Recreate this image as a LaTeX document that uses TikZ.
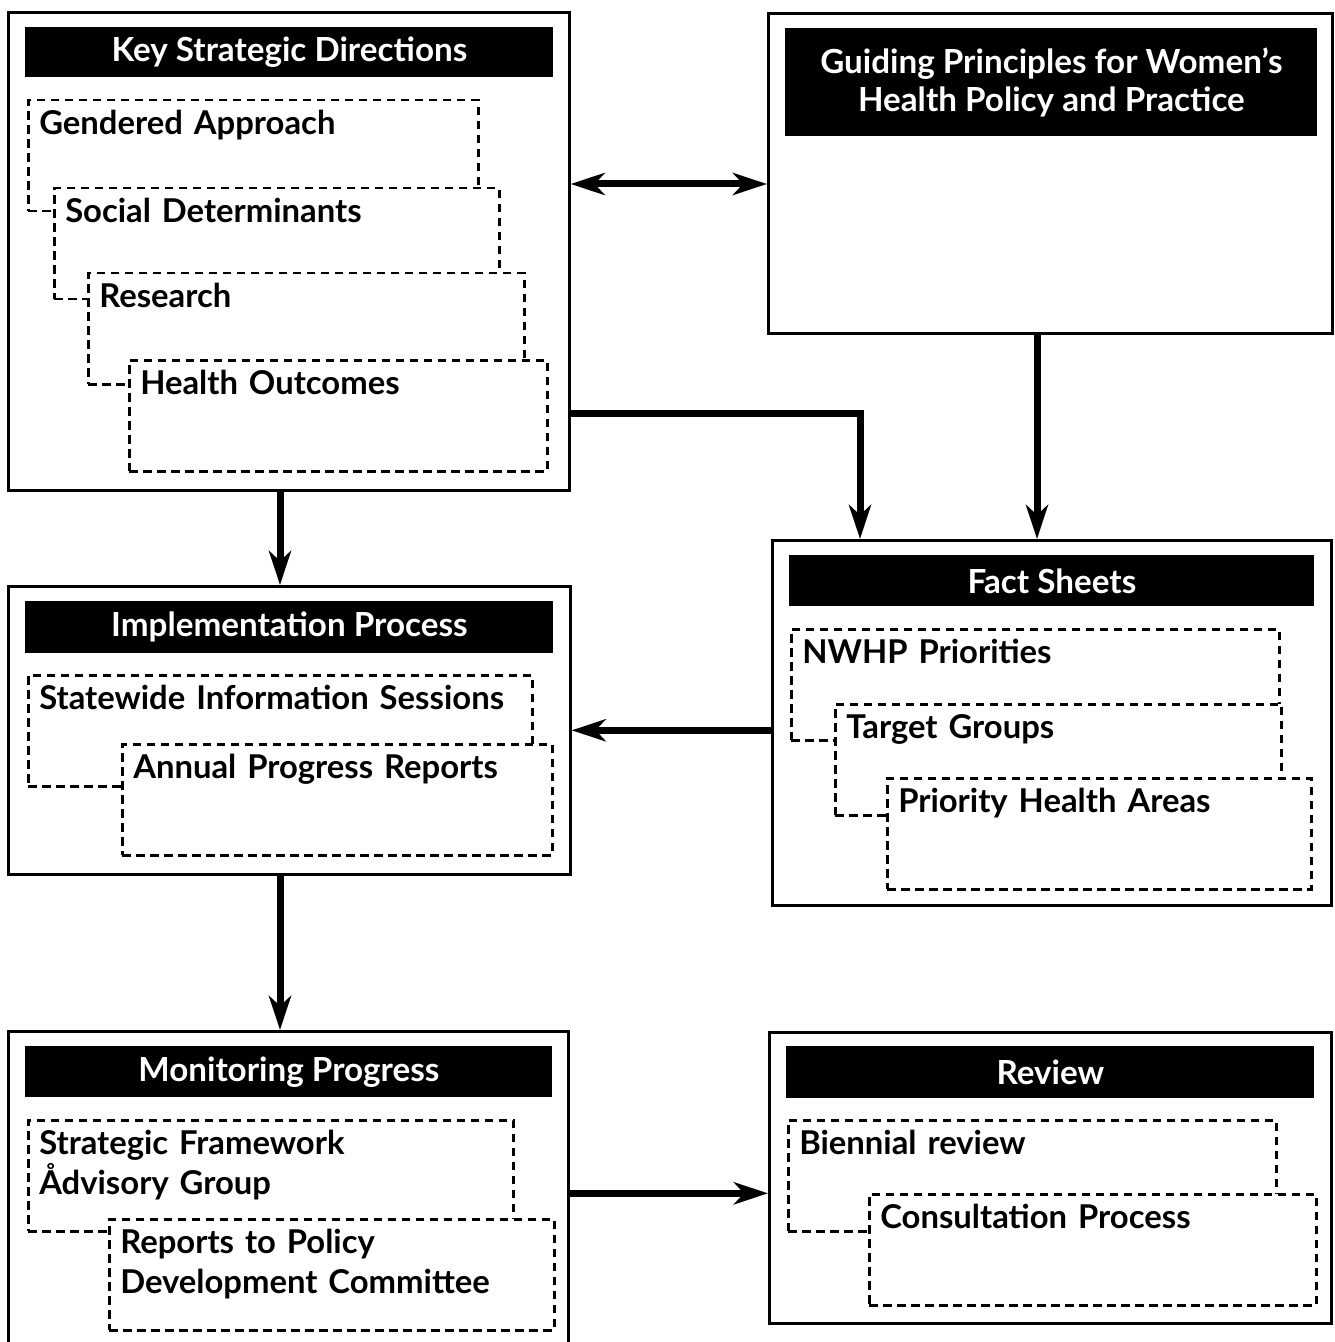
\documentclass[tikz,border=0pt]{standalone}
\usepackage{fontspec}
\setmainfont{Lato}
\usetikzlibrary{positioning,arrows.meta}

\begin{document}
\begin{tikzpicture}[
    x=0.5pt, y=-0.5pt,
    box/.style={rectangle, draw=black, line width=1.3pt, anchor=north west, inner sep=0pt},
    head/.style={rectangle, fill=black, text=white, anchor=north west, inner sep=0pt, align=center, font=\bfseries\fontsize{16.6}{19}\selectfont},
    item/.style={rectangle, draw=black, fill=white, dash pattern=on 4.2pt off 2.8pt, line width=1.25pt, anchor=north west, inner xsep=5.5pt, inner ysep=0pt, text height=17pt, text depth=38.5pt, align=left, font=\bfseries\fontsize{16.4}{20}\selectfont},
    arrow/.style={-{Stealth[length=17pt,width=11pt,inset=5pt]}, line width=3.5pt},
    dblarrow/.style={{Stealth[length=17pt,width=11pt,inset=5pt]}-{Stealth[length=17pt,width=11pt,inset=5pt]}, line width=3.5pt}
]
    \useasboundingbox (0,0) rectangle (1334,1342);

    % outer boxes
    \node[box, minimum width=280.5pt, minimum height=239pt] (ksd) at (7,11) {};
    \node[box, minimum width=282pt, minimum height=160pt] (gp) at (767,12) {};
    \node[box, minimum width=279.5pt, minimum height=182.5pt] (facts) at (771,539) {};
    \node[box, minimum width=281pt, minimum height=144pt] (impl) at (7,585) {};
    \node[box, minimum width=280pt, minimum height=162pt] (monit) at (7,1030) {};
    \node[box, minimum width=281pt, minimum height=145.5pt] (review) at (768,1031) {};

    % headers
    \node[head, minimum width=264pt, minimum height=25pt] (ksdHead) at (25,27) {Key Strategic Directions};
    \node[head, minimum width=266pt, minimum height=54pt] (gpHead) at (785,28) {Guiding Principles for Women’s\\Health Policy and Practice};
    \node[head, minimum width=262.5pt, minimum height=25.5pt] (factsHead) at (789,555) {Fact Sheets};
    \node[head, minimum width=264pt, minimum height=26pt] (implHead) at (25,601) {Implementation Process};
    \node[head, minimum width=263.5pt, minimum height=25.5pt] (monitHead) at (25,1046) {Monitoring Progress};
    \node[head, minimum width=264pt, minimum height=26pt] (reviewHead) at (786,1046) {Review};

    % dashed items
    \node[item, text width=214pt] (ga) at (27,99) {Gendered Approach};
    \node[item, text width=211.5pt] (sd) at (53,187) {Social Determinants};
    \node[item, text width=207pt] (res) at (87,272) {Research};
    \node[item, text width=198pt] (ho) at (128,359) {Health Outcomes};

    \node[item, text width=233pt] (nwhp) at (790,628) {NWHP Priorities};
    \node[item, text width=212pt] (tg) at (834,703) {Target Groups};
    \node[item, text width=201pt] (pha) at (886,777) {Priority Health Areas};

    \node[item, text width=241pt] (sis) at (27,674) {Statewide Information Sessions};
    \node[item, text width=204pt] (apr) at (121,743) {Annual Progress Reports};

    \node[item, text width=231.5pt] (sfag) at (27,1119) {Strategic Framework\\Ådvisory Group};
    \node[item, text width=211.5pt] (rpdc) at (108,1218) {Reports to Policy\\Development Committee};

    \node[item, text width=233pt] (br) at (787,1119) {Biennial review};
    \node[item, text width=212.5pt] (cp) at (868,1193) {Consultation Process};

    % connectors
    \coordinate (dblY) at (0,184);
    \coordinate (bendKF) at (860,413);
    \coordinate (gpX) at (1037,0);
    \coordinate (leftX) at (280,0);

    \draw[dblarrow] (ksd.east |- dblY) -- (gp.west |- dblY);
    \draw[arrow] (ksd.east |- bendKF) -| (facts.north -| bendKF);
    \draw[arrow] (gp.south -| gpX) -- (facts.north -| gpX);
    \draw[arrow] (ksd.south -| leftX) -- (impl.north -| leftX);
    \draw[arrow] (facts.west |- impl.east) -- (impl.east);
    \draw[arrow] (impl.south -| leftX) -- (monit.north -| leftX);
    \draw[arrow] (monit.east) -- (monit.east -| review.west);
\end{tikzpicture}
\end{document}
